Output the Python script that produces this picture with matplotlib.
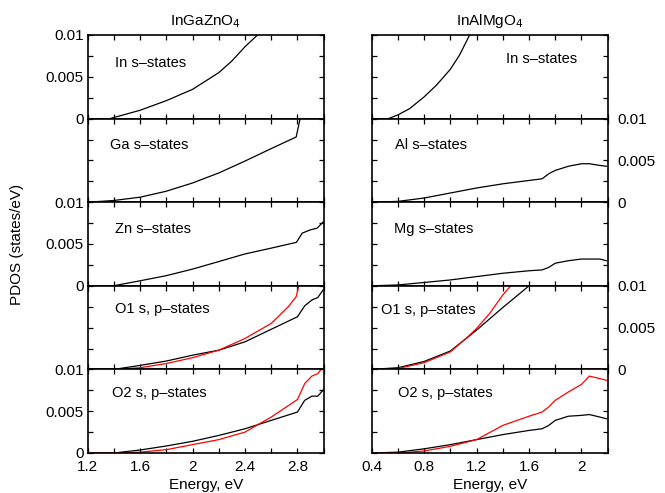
import matplotlib
matplotlib.use("Agg")
import matplotlib.pyplot as plt
from matplotlib.ticker import MultipleLocator, FuncFormatter

plt.rcParams["font.family"] = ["Liberation Sans", "DejaVu Sans"]

# ---- InGaZnO4 (left column) ----
igzo_in_e = [1.2, 1.37, 1.6, 1.8, 2.0, 2.2, 2.3, 2.4, 2.495]
igzo_in = [0.0, 0.0, 0.001, 0.00215, 0.0035, 0.0055, 0.0069, 0.0086, 0.01]

igzo_ga_e = [1.2, 1.396, 1.6, 1.796, 2.0, 2.2, 2.397, 2.598, 2.79, 2.82]
igzo_ga = [0.0, 0.0002, 0.0006, 0.0013, 0.0023, 0.0035, 0.0049, 0.0064, 0.0078, 0.01]

igzo_zn_e = [1.2, 1.396, 1.6, 1.796, 2.0, 2.2, 2.397, 2.598, 2.792, 2.836, 2.9, 2.95, 3.0]
igzo_zn = [0.0, 0.0, 0.0006, 0.0012, 0.002, 0.0029, 0.0038, 0.0045, 0.0052, 0.0063, 0.0067, 0.0069, 0.0077]

igzo_tail_e = [1.2, 1.4, 1.6, 1.8, 2.0, 2.2, 2.4, 2.6, 2.8, 2.855, 2.91, 2.955, 3.0]
igzo_o1_black = [0.0, 0.0, 0.00048, 0.001, 0.0017, 0.0023, 0.0033, 0.0048, 0.0063, 0.0076, 0.0083, 0.0086, 0.0096]
igzo_o1_red_e = [1.2, 1.4, 1.6, 1.8, 2.0, 2.2, 2.4, 2.6, 2.73, 2.79, 2.81]
igzo_o1_red = [0.0, 0.0, 0.0002, 0.0007, 0.0014, 0.0023, 0.0037, 0.0055, 0.0075, 0.0087, 0.01]

igzo_o2_black = [0.0, 0.0, 0.00036, 0.00084, 0.0014, 0.0021, 0.0029, 0.0039, 0.0049, 0.0063, 0.0068, 0.0068, 0.0076]
igzo_o2_red_e = [1.2, 1.4, 1.6, 1.8, 2.0, 2.2, 2.4, 2.6, 2.8, 2.855, 2.91, 2.955, 2.98]
igzo_o2_red = [0.0, 0.0, 0.0001, 0.0004, 0.001, 0.0016, 0.0025, 0.0043, 0.0064, 0.0083, 0.0092, 0.0095, 0.01]

# ---- InAlMgO4 (right column) ----
iamo_in_e = [0.4, 0.527, 0.6, 0.69, 0.8, 0.894, 1.0, 1.07, 1.147]
iamo_in = [0.0, 0.0, 0.00044, 0.0012, 0.0026, 0.004, 0.0059, 0.0076, 0.01]

iamo_e = [0.4, 0.6, 0.8, 1.0, 1.2, 1.4, 1.6, 1.7, 1.75, 1.8, 1.9, 2.0, 2.06, 2.14, 2.19]
iamo_al = [0.0, 0.0001, 0.0005, 0.0011, 0.0017, 0.0022, 0.0026, 0.0028, 0.0034, 0.0038, 0.0043, 0.0046, 0.0046, 0.0044, 0.0043]
iamo_mg = [0.0, 0.0001, 0.0004, 0.0007, 0.0011, 0.0015, 0.0018, 0.0019, 0.0022, 0.0027, 0.003, 0.0032, 0.0032, 0.0032, 0.003]

iamo_o1_black_e = [0.4, 0.6, 0.8, 1.0, 1.12, 1.2, 1.4, 1.6]
iamo_o1_black = [0.0, 0.0002, 0.00095, 0.0022, 0.0037, 0.0047, 0.0074, 0.01]
iamo_o1_red_e = [0.4, 0.6, 0.8, 1.0, 1.12, 1.2, 1.3, 1.4, 1.46]
iamo_o1_red = [0.0, 0.0001, 0.0008, 0.0021, 0.0037, 0.0049, 0.0067, 0.0089, 0.01]

iamo_o2_black = [0.0, 0.0001, 0.0005, 0.001, 0.0016, 0.0022, 0.0027, 0.0029, 0.0033, 0.0039, 0.0044, 0.0045, 0.0046, 0.0043, 0.0041]
iamo_o2_red = [0.0, 0.0, 0.00024, 0.0008, 0.0016, 0.0033, 0.0044, 0.0049, 0.0055, 0.0063, 0.0073, 0.0082, 0.0092, 0.0089, 0.0087]

left_labels = ["In s\u2013states", "Ga s\u2013states", "Zn s\u2013states", "O1 s, p\u2013states", "O2 s, p\u2013states"]
right_labels = ["In s\u2013states", "Al s\u2013states", "Mg s\u2013states", "O1 s, p\u2013states", "O2 s, p\u2013states"]

left_lines = [
    [(igzo_in_e, igzo_in, "black")],
    [(igzo_ga_e, igzo_ga, "black")],
    [(igzo_zn_e, igzo_zn, "black")],
    [(igzo_tail_e, igzo_o1_black, "black"), (igzo_o1_red_e, igzo_o1_red, "red")],
    [(igzo_tail_e, igzo_o2_black, "black"), (igzo_o2_red_e, igzo_o2_red, "red")],
]
right_lines = [
    [(iamo_in_e, iamo_in, "black")],
    [(iamo_e, iamo_al, "black")],
    [(iamo_e, iamo_mg, "black")],
    [(iamo_o1_black_e, iamo_o1_black, "black"), (iamo_o1_red_e, iamo_o1_red, "red")],
    [(iamo_e, iamo_o2_black, "black"), (iamo_e, iamo_o2_red, "red")],
]

left_text_pos = [(0.116, 0.665), (0.095, 0.68), (0.116, 0.685), (0.116, 0.725), (0.104, 0.72)]
right_text_pos = [(0.569, 0.716), (0.099, 0.68), (0.094, 0.674), (0.038, 0.71), (0.11, 0.72)]

W, H = 665, 493
fig = plt.figure(figsize=(W / 100, H / 100), dpi=100)

top_px, bot_px = 35, 453
row_h = (bot_px - top_px) / 5
col_w = 236


def fmt(v, pos):
    return f"{round(v, 4):g}"


def setup(ax, xlim, bottom, ylab_side):
    ax.set_xlim(*xlim)
    ax.set_ylim(0, 0.01)
    ax.xaxis.set_major_locator(MultipleLocator(0.4))
    ax.xaxis.set_minor_locator(MultipleLocator(0.2))
    ax.yaxis.set_major_locator(MultipleLocator(0.005))
    ax.yaxis.set_minor_locator(MultipleLocator(0.0025))
    ax.xaxis.set_major_formatter(FuncFormatter(fmt))
    ax.yaxis.set_major_formatter(FuncFormatter(fmt))
    ax.tick_params(which="both", direction="in", top=True, bottom=True, left=True, right=True,
                   length=3.6, width=0.9, labelsize=11)
    ax.tick_params(axis="x", labelbottom=bottom, pad=5)
    ax.tick_params(axis="y", labelleft=(ylab_side == "left"), labelright=(ylab_side == "right"))
    ax.tick_params(axis="y", which="major", pad=3 if ylab_side == "left" else 7)
    for s in ax.spines.values():
        s.set_linewidth(1.2)


for col, (x0_px, xlim, lines, labels, tpos, title) in enumerate([
    (87.7, (1.2, 3.0), left_lines, left_labels, left_text_pos, "InGaZnO$_4$"),
    (371.7, (0.4, 2.2), right_lines, right_labels, right_text_pos, "InAlMgO$_4$"),
]):
    for r in range(5):
        y0 = top_px + row_h * (r + 1)
        ax = fig.add_axes([x0_px / W, 1 - y0 / H, col_w / W, row_h / H])
        if col == 0:
            side = "left" if r % 2 == 0 else None
        else:
            side = "right" if r % 2 == 1 else None
        setup(ax, xlim, r == 4, side)
        for xs, ys, c in lines[r]:
            ax.plot(xs, ys, color=c, lw=0.9)
        ax.text(tpos[r][0], tpos[r][1], labels[r], transform=ax.transAxes,
                fontsize=10.5, va="center", ha="left")
        if r == 0:
            ax.set_title(title, fontsize=11, pad=7)
        if r == 4:
            ax.set_xlabel("Energy, eV", fontsize=11, labelpad=3)

fig.text(17 / W, 1 - 244 / H, "PDOS (states/eV)", rotation=90, ha="center", va="center", fontsize=11)

fig.savefig("out.png", dpi=100)
